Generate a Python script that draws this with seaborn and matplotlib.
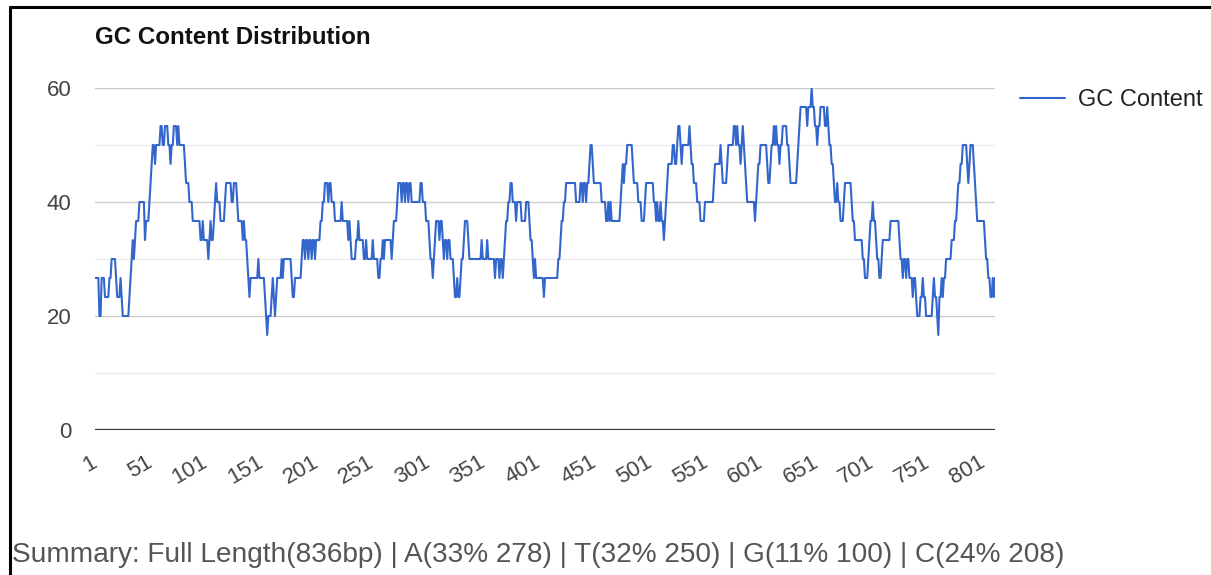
import numpy as np
import pandas as pd
import matplotlib
matplotlib.use("Agg")
import matplotlib.pyplot as plt
import seaborn as sns
from matplotlib.lines import Line2D

# ---- data (GC content % in a sliding window) ----
run_starts = [1, 5, 7, 10, 14, 16, 20, 21, 24, 25, 26, 32, 33, 34, 35, 36, 37, 38, 41, 46,
              47, 50, 51, 52, 53, 55, 56, 60, 62, 64, 67, 69, 70, 72, 75, 76, 77, 82, 83, 86,
              89, 96, 98, 99, 103, 104, 105, 106, 108, 109, 110, 111, 114, 118, 119, 124, 126,
              129, 130, 134, 135, 136, 138, 139, 140, 141, 148, 149, 154, 155, 156, 157, 160,
              161, 162, 163, 164, 165, 169, 170, 171, 178, 179, 181, 187, 188, 190, 191, 193,
              194, 196, 197, 199, 200, 204, 206, 208, 211, 212, 214, 217, 223, 224, 229, 230,
              231, 232, 236, 238, 239, 243, 245, 246, 251, 252, 256, 258, 260, 261, 262, 268,
              269, 270, 273, 274, 277, 278, 280, 281, 283, 284, 286, 294, 296, 299, 302, 303,
              305, 306, 307, 308, 311, 312, 314, 315, 316, 318, 319, 321, 324, 325, 327, 328,
              330, 331, 333, 334, 337, 338, 349, 350, 354, 355, 361, 362, 365, 366, 368, 369,
              370, 371, 373, 375, 377, 380, 381, 385, 389, 392, 393, 395, 396, 397, 398, 405,
              406, 418, 420, 421, 423, 425, 434, 438, 440, 441, 443, 444, 446, 447, 449, 450,
              457, 461, 463, 464, 465, 466, 474, 475, 476, 477, 478, 480, 485, 486, 490, 493,
              496, 497, 504, 506, 507, 508, 510, 511, 513, 514, 515, 516, 517, 521, 523, 525,
              526, 528, 529, 530, 536, 537, 538, 540, 543, 546, 550, 558, 559, 564, 565, 566,
              570, 571, 576, 578, 579, 580, 582, 583, 584, 585, 586, 587, 588, 595, 596, 597,
              598, 600, 606, 607, 609, 610, 612, 613, 614, 615, 617, 618, 620, 624, 626, 627,
              633, 634, 635, 636, 642, 643, 646, 647, 649, 651, 652, 654, 658, 660, 661, 662,
              664, 666, 667, 669, 670, 672, 675, 676, 682, 683, 685, 692, 694, 697, 698, 699,
              701, 702, 704, 705, 707, 709, 710, 717, 725, 726, 728, 729, 731, 732, 734, 737,
              738, 740, 741, 744, 746, 747, 749, 755, 756, 757, 759, 760, 761, 763, 764, 765,
              767, 772, 775, 777, 778, 780, 782, 786, 787, 788, 789, 792, 793, 794, 795, 802,
              803, 805, 807, 809, 810, 811]
run_values = [26.67, 20, 26.67, 23.33, 26.67, 30, 26.67, 23.33, 26.67, 23.33, 20, 23.33, 26.67, 30, 33.33, 30, 33.33, 36.67, 40, 33.33,
              36.67, 40, 43.33, 46.67, 50, 46.67, 50, 53.33, 50, 53.33, 50, 46.67, 50, 53.33, 50, 53.33, 50, 46.67, 43.33, 40,
              36.67, 33.33, 36.67, 33.33, 30, 33.33, 36.67, 33.33, 36.67, 40, 43.33, 40, 36.67, 40, 43.33, 40, 43.33,
              40, 36.67, 33.33, 36.67, 33.33, 30, 26.67, 23.33, 26.67, 30, 26.67, 23.33, 20, 16.67, 20, 23.33,
              26.67, 23.33, 20, 23.33, 26.67, 30, 26.67, 30, 26.67, 23.33, 26.67, 30, 33.33, 30, 33.33, 30,
              33.33, 30, 33.33, 30, 33.33, 36.67, 40, 43.33, 40, 43.33, 40, 36.67, 40, 36.67, 33.33, 36.67,
              33.33, 30, 33.33, 36.67, 33.33, 30, 33.33, 30, 33.33, 30, 26.67, 30, 33.33, 30, 33.33, 30,
              33.33, 36.67, 40, 43.33, 40, 43.33, 40, 43.33, 40, 43.33, 40, 43.33, 40, 36.67, 33.33, 30,
              26.67, 30, 33.33, 36.67, 33.33, 36.67, 33.33, 30, 33.33, 30, 33.33, 30, 26.67, 23.33, 26.67, 23.33,
              26.67, 30, 33.33, 36.67, 33.33, 30, 33.33, 30, 33.33, 30, 26.67, 30, 26.67, 30, 26.67, 30,
              33.33, 36.67, 40, 43.33, 40, 36.67, 40, 36.67, 40, 36.67, 33.33, 30, 26.67, 30, 26.67, 23.33,
              26.67, 30, 33.33, 36.67, 40, 43.33, 40, 43.33, 40, 43.33, 40, 43.33, 46.67, 50, 46.67, 43.33,
              40, 36.67, 40, 36.67, 40, 36.67, 40, 43.33, 46.67, 43.33, 46.67, 50, 46.67, 43.33, 40, 36.67,
              40, 43.33, 40, 36.67, 40, 36.67, 40, 36.67, 33.33, 36.67, 40, 43.33, 46.67, 50, 46.67, 50,
              53.33, 50, 46.67, 50, 53.33, 50, 46.67, 43.33, 40, 36.67, 40, 43.33, 46.67, 50, 46.67, 43.33,
              46.67, 50, 53.33, 50, 53.33, 50, 46.67, 50, 53.33, 50, 46.67, 43.33, 40, 36.67, 40, 43.33,
              46.67, 50, 46.67, 43.33, 46.67, 50, 53.33, 50, 53.33, 50, 46.67, 50, 53.33, 50, 46.67, 43.33,
              46.67, 50, 53.33, 56.67, 53.33, 56.67, 60, 56.67, 53.33, 50, 53.33, 56.67, 53.33, 56.67, 53.33, 50,
              46.67, 43.33, 40, 43.33, 40, 36.67, 40, 43.33, 40, 36.67, 33.33, 30, 26.67, 30, 33.33, 36.67,
              40, 36.67, 33.33, 30, 26.67, 30, 33.33, 36.67, 33.33, 30, 26.67, 30, 26.67, 30, 26.67, 23.33,
              26.67, 23.33, 20, 23.33, 26.67, 23.33, 20, 23.33, 26.67, 23.33, 20, 16.67, 23.33, 26.67, 23.33, 26.67,
              30, 33.33, 36.67, 40, 43.33, 46.67, 50, 46.67, 43.33, 46.67, 50, 46.67, 43.33, 40, 36.67, 33.33,
              30, 26.67, 23.33, 26.67, 23.33, 26.67]
run_end = 812
tick_labels = [str(v) for v in range(1, 802, 50)]
series_name = "GC Content"
title_text = "GC Content Distribution"
summary_text = "Summary: Full Length(836bp) | A(33% 278) | T(32% 250) | G(11% 100) | C(24% 208)"

lengths = np.diff(run_starts + [run_end])
gc = np.repeat(run_values, lengths)
pos = np.arange(1, len(gc) + 1)
df = pd.DataFrame({"Position": pos, series_name: gc})

# ---- figure ----
sns.set_theme(style="white")
plt.rcParams["font.family"] = ["Liberation Sans", "DejaVu Sans"]

W, H = 1211, 575
fig = plt.figure(figsize=(W / 100, H / 100), dpi=100)
ax = fig.add_axes([95 / W, 1 - 430 / H, 900 / W, 342 / H])

sns.lineplot(data=df, x="Position", y=series_name, color="#3366cc", linewidth=1.5,
             ax=ax, label=series_name)

ax.set_xlim(1, len(gc))
ax.set_ylim(0, 60)
ax.set_yticks([0, 20, 40, 60])
ax.set_yticks([10, 30, 50], minor=True)
ax.grid(axis="y", which="major", color="#cccccc", linewidth=1.0)
ax.grid(axis="y", which="minor", color="#ebebeb", linewidth=1.0)
ax.grid(axis="x", visible=False)
ax.set_axisbelow(True)
for s in ax.spines.values():
    s.set_visible(False)
ax.axhline(0, color="#333333", linewidth=1.6, zorder=1.5)

ax.set_xticks(list(range(1, 802, 50)))
ax.set_xticklabels(tick_labels, rotation=30, ha="right", va="center",
                   rotation_mode="anchor", fontsize=16, color="#444444")
ax.tick_params(axis="x", length=0, pad=22)
ax.tick_params(axis="y", which="both", length=0, pad=17, labelsize=16, labelcolor="#444444")
ax.set_xlabel("")
ax.set_ylabel("")

leg = ax.legend(loc="center left", bbox_to_anchor=(1020 / W, 1 - 100 / H),
                bbox_transform=fig.transFigure, frameon=False, fontsize=17,
                handlelength=1.9, handletextpad=0.55, borderpad=0, borderaxespad=0)
for t in leg.get_texts():
    t.set_color("#222222")

fig.text(95 / W, 1 - 37 / H, title_text, fontsize=17.4, fontweight="bold",
         color="#111111", ha="left", va="center")

fig.text(12 / W, 1 - 555 / H, summary_text, fontsize=20.2,
         color="#555555", ha="left", va="center")

# outer frame (left and top edges visible)
fig.add_artist(Line2D([10 / W, 10 / W], [0, 1 - 7 / H], transform=fig.transFigure,
                      color="black", linewidth=2.2))
fig.add_artist(Line2D([10 / W, 1], [1 - 7 / H, 1 - 7 / H], transform=fig.transFigure,
                      color="black", linewidth=2.2))

fig.savefig("out.png", dpi=100)
